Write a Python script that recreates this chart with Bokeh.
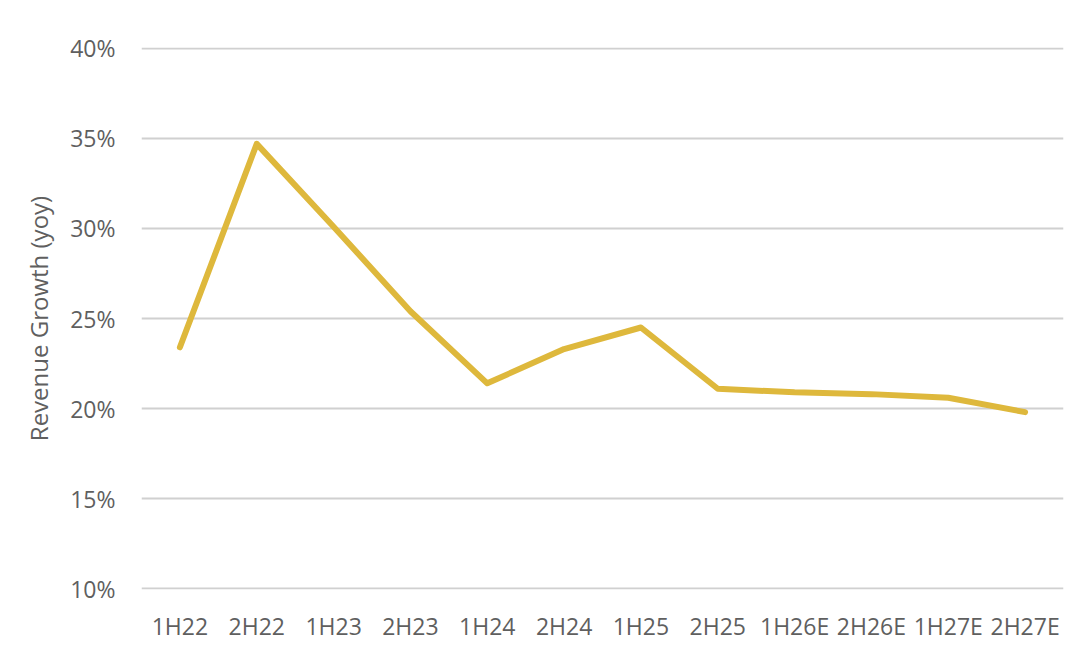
from bokeh.plotting import figure
from bokeh.models import Range1d, NumeralTickFormatter, FixedTicker
from bokeh.embed import file_html
from bokeh.resources import INLINE

periods = ["1H22", "2H22", "1H23", "2H23", "1H24", "2H24", "1H25", "2H25",
           "1H26E", "2H26E", "1H27E", "2H27E"]
growth = [0.234, 0.347, 0.301, 0.254, 0.214, 0.233, 0.245, 0.211,
          0.209, 0.208, 0.206, 0.198]
y_ticks = [0.10, 0.15, 0.20, 0.25, 0.30, 0.35, 0.40]

FONT = "Open Sans"
TXT = "#5F5F5F"

p = figure(x_range=periods, y_range=Range1d(0.0995, 0.4005), width=1069, height=644,
           output_backend="svg", toolbar_location=None,
           min_border_left=141, min_border_right=6, min_border_top=47, min_border_bottom=46)
p.outline_line_color = None
p.background_fill_color = "white"
p.border_fill_color = "white"

p.line(periods, growth, line_color="#DEB83C", line_width=6, line_join="round", line_cap="round")

p.yaxis.ticker = FixedTicker(ticks=y_ticks)
p.yaxis.formatter = NumeralTickFormatter(format="0%")
p.yaxis.axis_label = "Revenue Growth (yoy)"
p.yaxis.axis_label_text_font = FONT
p.yaxis.axis_label_text_font_style = "normal"
p.yaxis.axis_label_text_font_size = "24px"
p.yaxis.axis_label_text_color = TXT
p.yaxis.axis_label_standoff = 12

for ax in (p.xaxis[0], p.yaxis[0]):
    ax.axis_line_color = None
    ax.major_tick_line_color = None
    ax.minor_tick_line_color = None
    ax.major_tick_out = 0
    ax.major_tick_in = 0
    ax.major_label_text_font = FONT
    ax.major_label_text_font_size = "23px"
    ax.major_label_text_color = TXT

p.yaxis.major_label_standoff = 26
p.xaxis.major_label_standoff = 20

p.xgrid.grid_line_color = None
p.ygrid.grid_line_color = "#D0D0D0"
p.ygrid.grid_line_width = 2

open("out.html", "w").write(file_html(p, INLINE))
